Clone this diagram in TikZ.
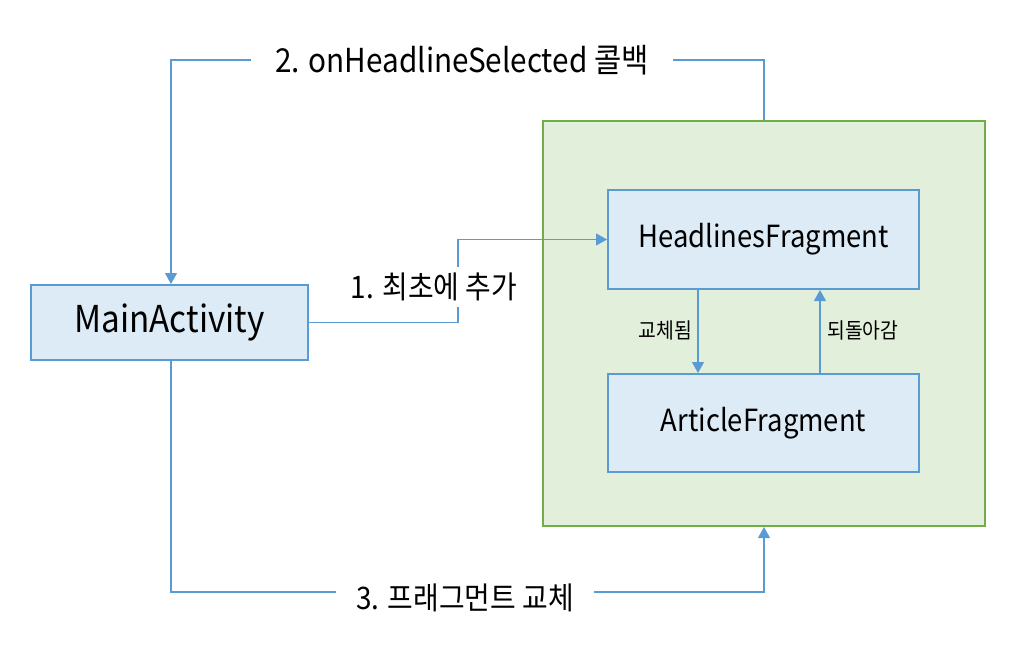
\documentclass[tikz,border=0pt]{standalone}
\usepackage{fontspec}
\setmainfont{Noto Sans CJK KR}[FakeStretch=0.9]
\usetikzlibrary{arrows.meta}
\definecolor{boxLine}{HTML}{5B9BD5}
\definecolor{boxFill}{HTML}{DDEBF7}
\definecolor{groupLine}{HTML}{70AD47}
\definecolor{groupFill}{HTML}{E2EFDA}
\definecolor{linkBlue}{HTML}{5B9BD5}
\newcommand{\mainLabel}{\fontsize{37}{40}\selectfont}
\newcommand{\fragLabel}{\fontsize{30.5}{34}\selectfont}
\newcommand{\bigLabel}{\fontsize{31}{34}\selectfont}
\newcommand{\smallLabel}{\fontsize{21.5}{24}\selectfont}

\begin{document}
\begin{tikzpicture}[x=1pt,y=-1pt,
  fragbox/.style={draw=boxLine,fill=boxFill,line width=2pt,inner sep=0pt,font=\fragLabel},
  link/.style={draw=linkBlue,line width=1.2pt},
  arrowed/.style={-{Triangle[width=12pt,length=11pt]}},
  gapLabel/.style={fill=white,font=\bigLabel,inner ysep=6pt}]
\useasboundingbox (0,0) rectangle (1021,650);
% Fragment container
\node[draw=groupLine,fill=groupFill,line width=2pt,minimum width=442pt,minimum height=405pt]
  (container) at (764,323.5) {};
% Boxes
\node[fragbox,font=\mainLabel,minimum width=277pt,minimum height=75pt] (main) at (169.5,322.5) {MainActivity};
\node[fragbox,minimum width=311pt,minimum height=99pt] (headlines) at (763.5,239.5) {HeadlinesFragment};
\node[fragbox,minimum width=311pt,minimum height=98pt] (article)   at (763.5,423)   {ArticleFragment};
% Turning points
\coordinate (addBend)  at (458,0);
\coordinate (leftRail) at (171,0);
\coordinate (topRail)  at (0,60);
\coordinate (botRail)  at (0,592);
\coordinate (swapX)    at (698,0);
\coordinate (backX)    at (820,0);
%1. first add
\draw[link,arrowed] (main.east) -| (addBend |- main.east) |- (headlines.west);
\node[gapLabel,inner xsep=13pt] (addLabel) at (434,287) {1. 최초에 추가};
%2. callback
\draw[link,arrowed] (container.north) |- (leftRail |- topRail) -- (leftRail |- main.north);
\node[gapLabel,font=\fontsize{33}{36}\selectfont,inner xsep=24pt] (callLabel) at (462,60) {2. onHeadlineSelected 콜백};
%3. replace
\draw[link,arrowed] (leftRail |- main.south) -- (leftRail |- botRail) -| (container.south);
\node[gapLabel,inner xsep=20pt] (swapLabel) at (465,598) {3. 프래그먼트 교체};
% inside the container
\draw[link,arrowed] (swapX |- headlines.south) -- (swapX |- article.north);
\draw[link,arrowed] (backX |- article.north) -- (backX |- headlines.south);
\node[font=\smallLabel,anchor=east,inner sep=0pt] (swappedText) at (692,330) {교체됨};
\node[font=\smallLabel,anchor=west,inner sep=0pt] (backText)    at (827,330) {되돌아감};
\end{tikzpicture}
\end{document}
